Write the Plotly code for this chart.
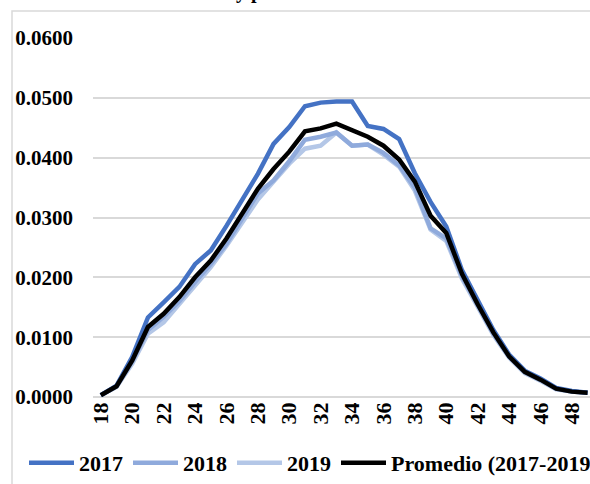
import plotly.graph_objects as go

ages = list(range(18, 50))
tasa_2017 = [0.0003, 0.0019, 0.0067, 0.0133, 0.0158, 0.0184, 0.0222, 0.0245, 0.0286, 0.0328,
             0.0373, 0.0423, 0.0451, 0.0486, 0.0492, 0.0494, 0.0494, 0.0453, 0.0448, 0.0431,
             0.0374, 0.0326, 0.0285, 0.0212, 0.0162, 0.0112, 0.0071, 0.0044, 0.0031, 0.0015,
             0.0010, 0.0007]
tasa_2018 = [0.0003, 0.0018, 0.0060, 0.0112, 0.0134, 0.0160, 0.0192, 0.0222, 0.0256, 0.0298,
             0.0340, 0.0362, 0.0394, 0.0430, 0.0435, 0.0442, 0.0420, 0.0422, 0.0408, 0.0387,
             0.0350, 0.0282, 0.0265, 0.0202, 0.0152, 0.0106, 0.0068, 0.0042, 0.0029, 0.0014,
             0.0009, 0.0007]
tasa_2019 = [0.0003, 0.0017, 0.0056, 0.0106, 0.0125, 0.0156, 0.0186, 0.0217, 0.0253, 0.0292,
             0.0330, 0.0360, 0.0390, 0.0415, 0.0420, 0.0442, 0.0420, 0.0422, 0.0405, 0.0385,
             0.0345, 0.0280, 0.0261, 0.0198, 0.0150, 0.0104, 0.0066, 0.0040, 0.0027, 0.0013,
             0.0009, 0.0007]
promedio = [0.0003, 0.0018, 0.0061, 0.0117, 0.0139, 0.0167, 0.0200, 0.0228, 0.0265, 0.0306,
            0.0348, 0.0381, 0.0410, 0.0444, 0.0449, 0.0457, 0.0445, 0.0435, 0.0420, 0.0397,
            0.0360, 0.0303, 0.0274, 0.0206, 0.0155, 0.0108, 0.0068, 0.0042, 0.0029, 0.0014,
            0.0009, 0.0007]
x_ticks = list(range(18, 49, 2))
y_ticks = [0.0, 0.01, 0.02, 0.03, 0.04, 0.05, 0.06]
y_tick_labels = ["0.0000", "0.0100", "0.0200", "0.0300", "0.0400", "0.0500", "0.0600"]

series = [
    ("2017", tasa_2017, "#4472C4"),
    ("2018", tasa_2018, "#8FAADC"),
    ("2019", tasa_2019, "#B4C7E7"),
    ("Promedio (2017-2019)", promedio, "#000000"),
]

FONT = "Liberation Serif"

fig = go.Figure()
order = [2, 1, 0, 3]
for i in order:
    name, vals, col = series[i]
    fig.add_trace(go.Scatter(
        x=ages, y=vals, mode="lines", name=name,
        line=dict(color=col, width=4.5),
        legendrank=i + 1,
    ))

W, H = 590, 484
ml, mr, mt, mb = 93, 0, 38, 87
pw = W - ml - mr
ph = H - mt - mb

def px_x(p):
    return (p - ml) / pw

def px_y(p):
    return (H - mb - p) / ph

fig.update_layout(
    width=W, height=H,
    margin=dict(l=ml, r=mr, t=mt, b=mb, pad=0, autoexpand=False),
    paper_bgcolor="white", plot_bgcolor="white",
    font=dict(family=FONT, color="black", size=20),
    showlegend=True,
    legend=dict(
        orientation="h", x=px_x(24), xanchor="left", y=px_y(463), yanchor="middle",
        font=dict(family=FONT, size=22, color="black", weight="bold"),
        bgcolor="rgba(0,0,0,0)", itemwidth=45, tracegroupgap=0,
        traceorder="normal",
    ),
    xaxis=dict(
        range=[17.5, 17.5 + pw / 15.7],
        tickmode="array", tickvals=x_ticks, ticktext=[str(v) for v in x_ticks],
        tickangle=-90, showgrid=False, zeroline=False, showline=False,
        ticks="", ticklabelstandoff=0,
        tickfont=dict(family=FONT, size=22, color="black", weight="bold"),
    ),
    yaxis=dict(
        range=[0, 0.06],
        tickmode="array", tickvals=y_ticks, ticktext=y_tick_labels,
        showgrid=True, gridcolor="#d9d9d9", gridwidth=2,
        zeroline=True, zerolinecolor="#d9d9d9", zerolinewidth=2,
        showline=False, ticks="", ticklabelstandoff=19,
        tickfont=dict(family=FONT, size=21, color="black", weight="bold"),
    ),
    shapes=[dict(
        type="rect", xref="paper", yref="paper",
        x0=px_x(12), x1=px_x(620), y0=px_y(520), y1=px_y(11),
        line=dict(color="#d9d9d9", width=1.5), fillcolor="rgba(0,0,0,0)", layer="below",
    )],
    annotations=[dict(
        text="y p", xref="paper", yref="paper", x=px_x(234), y=px_y(5),
        xanchor="left", yanchor="bottom", showarrow=False,
        font=dict(family=FONT, size=20, color="black", weight="bold"),
    )],
)

fig.write_html(
    "out.html",
    config={"displayModeBar": False},
    post_script="document.body.style.margin='0';document.body.style.overflow='hidden';",
)
